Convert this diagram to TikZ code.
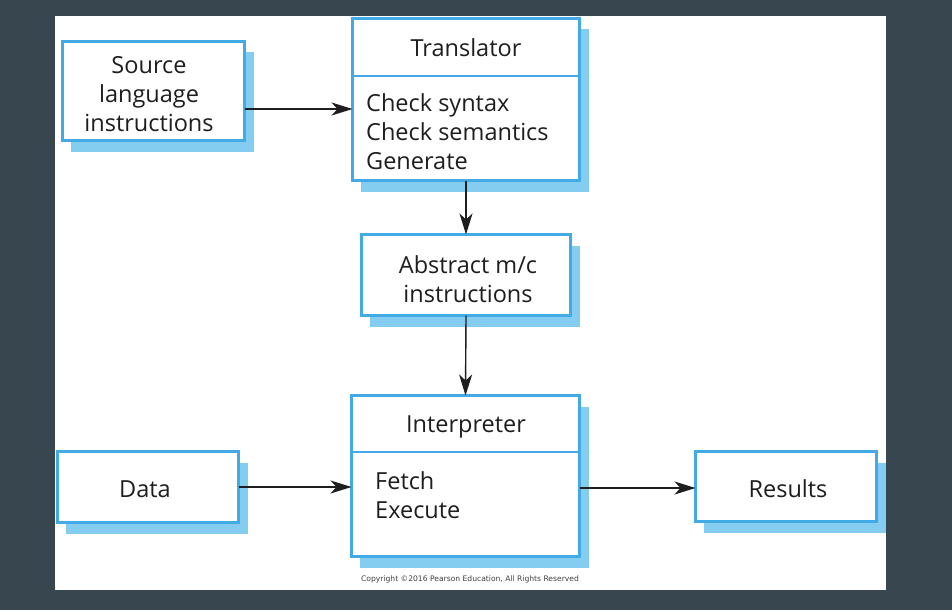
\documentclass[tikz,border=0pt]{standalone}
\usepackage{fontspec}
\setmainfont{Open Sans}
\newfontfamily\copyfont{DejaVu Sans}
\usetikzlibrary{arrows.meta}
\definecolor{bgdark}{RGB}{56,70,79}
\definecolor{boxblue}{RGB}{66,170,228}
\definecolor{shadowblue}{RGB}{132,204,240}
\definecolor{inkgray}{RGB}{30,30,30}
\tikzset{
  box/.style={draw=boxblue, line width=3pt, fill=white, inner sep=0pt, outer sep=0pt},
  ghost/.style={inner sep=0pt, outer sep=0pt, draw=none, fill=none},
  label/.style={inner sep=0pt, font=\fontsize{23.5}{29}\selectfont, text=inkgray, align=center},
  divider/.style={draw=boxblue, line width=2.2pt},
  arr/.style={draw=inkgray, line width=1.4pt, -{Stealth[length=21pt,width=13pt,inset=6pt]}},
}
\newcommand{\shadowof}[1]{\fill[shadowblue] ([shift={(8pt,-11pt)}]#1.south west) rectangle ([shift={(9pt,-11pt)}]#1.north east);}
\begin{document}
\begin{tikzpicture}[x=1pt,y=-1pt]
\fill[bgdark] (0,0) rectangle (952,610);
\useasboundingbox (0,0) rectangle (952,610);
\fill[white] (55,16) rectangle (886,590);
% box outlines used for the shadows
\path
  node[ghost, minimum width=182pt, minimum height=99pt] (src0) at (153.5,91) {}
  node[ghost, minimum width=227pt, minimum height=162pt] (trans0) at (466,99.5) {}
  node[ghost, minimum width=209pt, minimum height=81pt] (abs0) at (466,275) {}
  node[ghost, minimum width=228pt, minimum height=161pt] (interp0) at (465.5,476) {}
  node[ghost, minimum width=181pt, minimum height=71pt] (data0) at (148,487) {}
  node[ghost, minimum width=181pt, minimum height=70pt] (res0) at (786,486.5) {};
\shadowof{src0}
\shadowof{trans0}
\shadowof{abs0}
\shadowof{interp0}
\shadowof{data0}
\begin{scope}
\clip (55,16) rectangle (886,590);
\shadowof{res0}
\end{scope}
% boxes
\node[box, minimum width=182pt, minimum height=99pt] (src) at (153.5,91) {};
\node[box, minimum width=227pt, minimum height=162pt] (trans) at (466,99.5) {};
\node[box, minimum width=209pt, minimum height=81pt] (abs) at (466,275) {};
\node[box, minimum width=228pt, minimum height=161pt] (interp) at (465.5,476) {};
\node[box, minimum width=181pt, minimum height=71pt] (data) at (148,487) {};
\node[box, minimum width=181pt, minimum height=70pt] (res) at (786,486.5) {};
% dividers
\coordinate (tdiv) at (0,76);
\coordinate (idiv) at (0,452);
\draw[divider] (trans.west |- tdiv) -- (trans.east |- tdiv);
\draw[divider] (interp.west |- idiv) -- (interp.east |- idiv);
% texts
\node[label] (srct) at (149,94) {Source\\language\\instructions};
\node[label] (abst) at (468,279) {Abstract m/c\\instructions};
\node[label] (datat) at (145,489) {Data};
\node[label] (rest) at (788,489) {Results};
\node[label] (ttitle) at (466,48) {Translator};
\node[label, anchor=west, align=left] (tbody) at (366,132) {Check syntax\\Check semantics\\Generate};
\node[label] (ititle) at (466,427) {Interpreter};
\node[label, anchor=west, align=left] (ibody) at (375,495.5) {Fetch\\Execute};
% connectors
\draw[arr] ([yshift=-18pt]src.east) -- ([yshift=-9.5pt]trans.west);
\draw[arr] (trans.south) -- (abs.north);
\draw[arr] (abs.south) -- (interp.north);
\draw[arr] (data.east) -- (data.east -| interp.west);
\draw[arr] ([yshift=-1.5pt]interp.east |- res.west) -- ([yshift=-1.5pt]res.west);
% copyright
\node[inner sep=0pt, font=\copyfont\fontsize{7.6}{9}\selectfont, text=inkgray!85] (copy) at (470,579) {Copyright ©2016 Pearson Education, All Rights Reserved};
\end{tikzpicture}
\end{document}
